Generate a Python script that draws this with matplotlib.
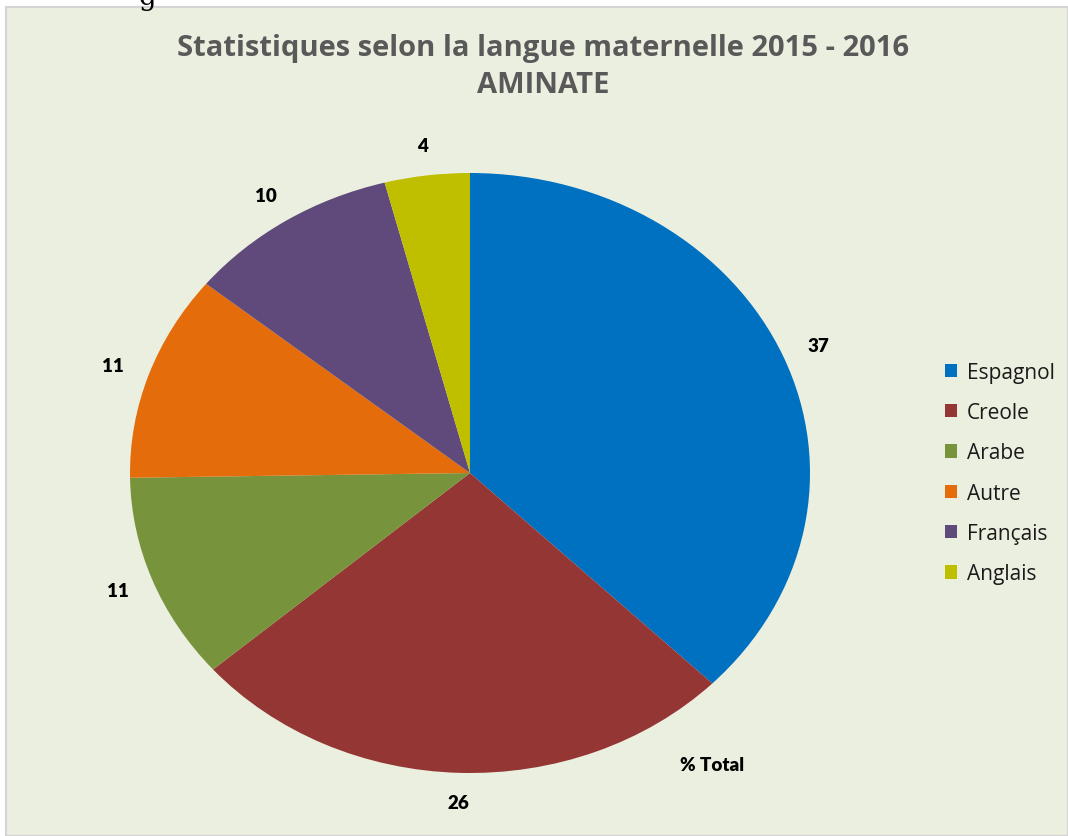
import matplotlib
matplotlib.use('Agg')
import numpy as np
import matplotlib.pyplot as plt

# données du graphique
langues = ['Espagnol', 'Creole', 'Arabe', 'Autre', 'Français', 'Anglais']
pourcentages = [37, 26, 11, 11, 10, 4]
couleurs = ['#0070C0', '#943634', '#77933C', '#E46C0A', '#604A7B', '#BFBF00']
titre = 'Statistiques selon la langue maternelle 2015 - 2016\nAMINATE'

W, H = 1068, 837
fig = plt.figure(figsize=(W / 100, H / 100), dpi=100)
fig.patch.set_facecolor('white')

# fond vert pâle du graphique
bg = fig.add_axes([6 / W, 0, 1 - 6 / W, 1 - 8 / H], zorder=-1)
bg.set_facecolor('#EBEFDF')
bg.set_xticks([])
bg.set_yticks([])
for s in bg.spines.values():
    s.set_color('#D4D4D4')
    s.set_linewidth(1.5)

# morceau de texte coupé en haut
fig.text(147 / W, 1 + 3 / H, 'g', fontfamily='DejaVu Serif', fontsize=20,
         ha='center', va='center', color='black')

cx, cy, rx, ry = 470, 474, 340, 300
ax = fig.add_axes([(cx - rx) / W, (H - cy - ry) / H, 2 * rx / W, 2 * ry / H], zorder=1)
wedges, _ = ax.pie(pourcentages, colors=couleurs, startangle=90, counterclock=False,
                   radius=1, wedgeprops=dict(linewidth=0))
ax.set_aspect('auto')
ax.set_xlim(-1, 1)
ax.set_ylim(-1, 1)
ax.axis('off')

# étiquettes de valeurs
for w, v in zip(wedges, pourcentages):
    ang = np.deg2rad((w.theta1 + w.theta2) / 2)
    ax.text(1.11 * np.cos(ang), 1.1 * np.sin(ang), str(v), ha='center', va='center',
            fontsize=13.5, fontweight='heavy', fontfamily='Lato', color='black',
            clip_on=False)

fig.text(712 / W, 1 - 766 / H, '% Total', ha='center', va='center', fontsize=13.5,
         fontweight='heavy', fontfamily='Lato', color='black', zorder=3)

fig.text(543 / W, 1 - 67 / H, titre, ha='center', va='center', fontsize=21,
         fontweight='bold', fontfamily='Open Sans', color='#595959', linespacing=1.4,
         zorder=3)

leg = fig.legend(wedges, langues, loc='center left', bbox_to_anchor=(926 / W, 1 - 474 / H),
                 frameon=False, handlelength=0.6, handleheight=0.6,
                 handletextpad=0.45, labelspacing=0.93,
                 prop=dict(family='Open Sans', size=15))
for t in leg.get_texts():
    t.set_color('#1A1A1A')

fig.savefig('out.png', dpi=100, facecolor=fig.get_facecolor())
